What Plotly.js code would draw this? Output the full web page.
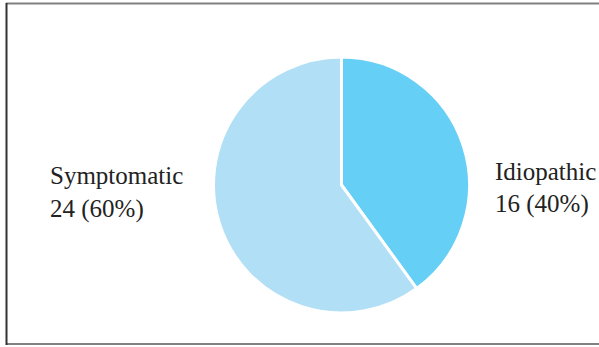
<!DOCTYPE html>
<html>
<head>
<meta charset="utf-8">
<script src="https://cdn.plot.ly/plotly-3.0.1.min.js"></script>
<style>html,body{margin:0;padding:0;background:#fff;}#chart{width:599px;height:347px;}</style>
</head>
<body>
<div id="chart"></div>
<script>
const categories = ["Idiopathic", "Symptomatic"];
const counts = [16, 24];
const percents = [40, 60];
const colors = ["#66CFF5", "#B1DFF5"];

const W = 599, H = 347;
const cx = 341.5, cy = 185, r = 128;

const data = [{
  type: "pie",
  labels: categories,
  values: counts,
  sort: false,
  direction: "clockwise",
  rotation: 0,
  textinfo: "none",
  hoverinfo: "none",
  marker: {colors: colors, line: {color: "#ffffff", width: 3}},
  domain: {x: [(cx - r) / W, (cx + r) / W], y: [1 - (cy + r) / H, 1 - (cy - r) / H]},
  showlegend: false
}];

const labelFont = {family: "Liberation Serif", size: 25, color: "#222"};
// label line positions (pixel centers)
const labelPos = [
  {x: 493, y1: 171, y2: 204},
  {x: 48, y1: 175, y2: 209}
];
const annotations = [];
categories.forEach((c, i) => {
  const p = labelPos[i];
  annotations.push({x: p.x / W, y: 1 - p.y1 / H, text: c});
  annotations.push({x: p.x / W, y: 1 - p.y2 / H, text: counts[i] + " (" + percents[i] + "%)"});
});
annotations.forEach(a => Object.assign(a, {xref: "paper", yref: "paper", xanchor: "left", yanchor: "middle", align: "left", showarrow: false, font: labelFont}));

const layout = {
  width: W, height: H,
  margin: {l: 0, r: 0, t: 0, b: 0},
  paper_bgcolor: "#fff",
  annotations: annotations,
  shapes: [
    {type: "line", xref: "paper", yref: "paper", x0: 6 / W, x1: 1, y0: 1 - 3.5 / H, y1: 1 - 3.5 / H, line: {color: "#808080", width: 2}},
    {type: "line", xref: "paper", yref: "paper", x0: 6 / W, x1: 1, y0: 1 - 344 / H, y1: 1 - 344 / H, line: {color: "#808080", width: 2}},
    {type: "line", xref: "paper", yref: "paper", x0: 6.5 / W, x1: 6.5 / W, y0: 1 - 3 / H, y1: 1 - 345 / H, line: {color: "#333333", width: 2}}
  ]
};

Plotly.newPlot("chart", data, layout, {staticPlot: true, displayModeBar: false});
</script>
</body>
</html>
